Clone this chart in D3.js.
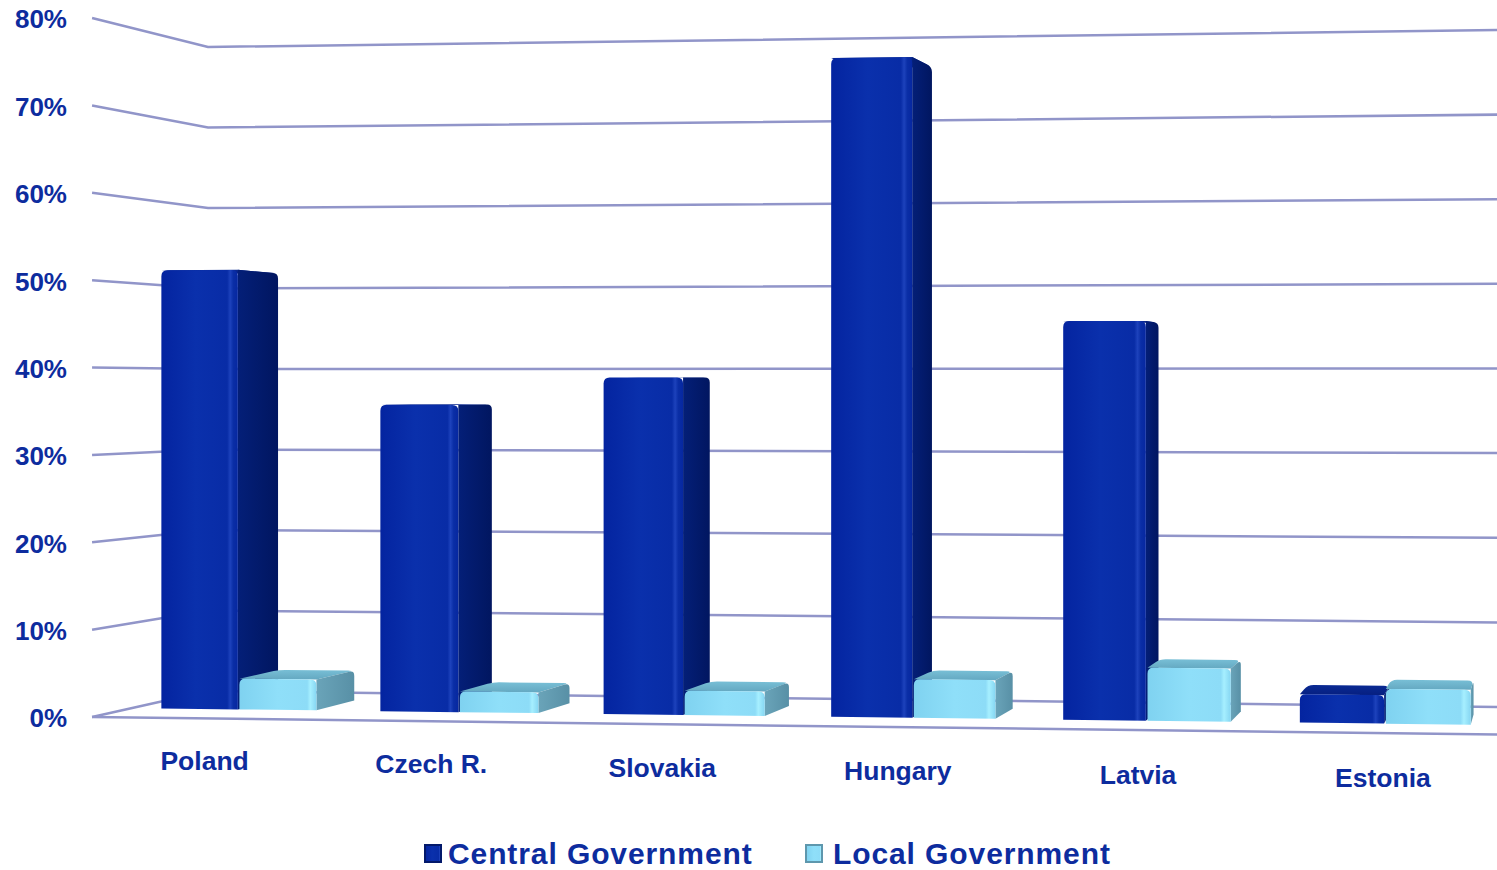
<!DOCTYPE html>
<html>
<head>
<meta charset="utf-8">
<script src="https://cdn.jsdelivr.net/npm/d3@7"></script>
<style>
body { margin: 0; background: #fff; }
svg { display: block; }
</style>
</head>
<body>
<div id="chart"></div>
<script>
var categories = ["Poland", "Czech R.", "Slovakia", "Hungary", "Latvia", "Estonia"];
var seriesNames = ["Central Government", "Local Government"];
var centralGov = [51.5, 35.7, 38.9, 75.5, 45.3, 3.2];
var localGov = [3.6, 2.4, 2.8, 4.4, 6.0, 3.9];
var yTicks = [0, 10, 20, 30, 40, 50, 60, 70, 80];

var width = 1497, height = 870;
var wallL = 208, wallR = 1500;
// vanishing point of the depth axis and depth scale factors
var vp = [1564, 386];
var mBack = 1.024, mFront = 1.056, mFloor = 1.0855;
var warp = 1.06, barX0 = 206, barW = 1303;
var textColor = "#0d2c9e", gridColor = "#9195c9";

var band = d3.scaleBand().domain(categories).range([0, 1])
    .paddingInner(0.29).paddingOuter(0.145);
var sub = d3.scaleBand().domain(seriesNames).range([0, band.bandwidth()])
    .paddingInner(0.02);
var yL = d3.scaleLinear().domain([0, 80]).range([691, 47]);
var yR = d3.scaleLinear().domain([0, 80]).range([707, 30]);

// slight perspective along the category axis
function bx(t) { var f = t / (warp - (warp - 1) * t); return barX0 + barW * f; }
function by(x, v) { var k = (x - wallL) / (1497 - wallL); return yL(v) + (yR(v) - yL(v)) * k; }
function proj(x, y, m) { return [vp[0] + (x - vp[0]) * m, vp[1] + (y - vp[1]) * m]; }
function towards(p, q, r) {
  var dx = q[0] - p[0], dy = q[1] - p[1], d = Math.sqrt(dx * dx + dy * dy);
  var k = Math.min(r, d / 2) / (d || 1);
  return [p[0] + dx * k, p[1] + dy * k];
}
function fmt(p) { return p[0].toFixed(2) + "," + p[1].toFixed(2); }
function roundPoly(pts, r, idx) {
  var n = pts.length, s = "";
  for (var i = 0; i < n; i++) {
    var p = pts[i], cmd = i ? "L" : "M";
    if (idx.indexOf(i) < 0) { s += cmd + fmt(p); continue; }
    var a = towards(p, pts[(i - 1 + n) % n], r), b = towards(p, pts[(i + 1) % n], r);
    s += cmd + fmt(a) + "Q" + fmt(p) + " " + fmt(b);
  }
  return s + "Z";
}

var svg = d3.select("#chart").append("svg")
    .attr("width", width)
    .attr("height", height)
    .style("font-family", "'Liberation Sans', Arial, sans-serif");

var defs = svg.append("defs");
function grad(id, stops, vertical) {
  var g = defs.append("linearGradient").attr("id", id)
    .attr("x1", 0).attr("y1", 0).attr("x2", vertical ? 0 : 1).attr("y2", vertical ? 1 : 0);
  stops.forEach(function(s) { g.append("stop").attr("offset", s[0]).attr("stop-color", s[1]); });
}
grad("darkFront", [[0, "#0424a0"], [0.45, "#0a30ac"], [0.86, "#082ca6"], [0.9, "#1d42bc"], [0.94, "#0a2ea6"], [1, "#0627a0"]]);
grad("darkSide", [[0, "#041f78"], [1, "#011660"]]);
grad("darkTop", [[0, "#0a2a94"], [1, "#061f80"]], true);
grad("lightFront", [[0, "#7fd2f0"], [0.5, "#8fdff9"], [0.88, "#8ddcf7"], [0.92, "#a6efff"], [1, "#86d6f2"]]);
grad("lightSide", [[0, "#6aa4b9"], [1, "#5890a6"]]);
grad("lightTop", [[0, "#78bfd6"], [1, "#64a8c1"]], true);

// walls
var line = d3.line();
var grid = svg.append("g").attr("class", "grid");
grid.selectAll("path.wall").data(yTicks).enter().append("path")
    .attr("class", "wall")
    .attr("fill", "none")
    .attr("stroke", gridColor)
    .attr("stroke-width", 2.5)
    .attr("d", function(v) {
      return line([proj(wallL, by(wallL, v), mFloor), [wallL, by(wallL, v)], [wallR, by(wallR, v)]]);
    });
grid.append("path")
    .attr("fill", "none")
    .attr("stroke", gridColor)
    .attr("stroke-width", 2.5)
    .attr("d", line([proj(wallL, by(wallL, 0), mFloor), proj(wallR + 6, by(wallR + 6, 0), mFloor)]));

// y labels
svg.append("g").selectAll("text").data(yTicks).enter().append("text")
    .attr("x", 67)
    .attr("y", function(v) { return proj(wallL, by(wallL, v), mFloor)[1] + 1; })
    .attr("dy", "0.36em")
    .attr("text-anchor", "end")
    .attr("font-size", 26)
    .attr("font-weight", "bold")
    .attr("fill", textColor)
    .text(function(v) { return v + "%"; });

// bars
var bars = [];
categories.forEach(function(c, i) {
  bars.push({ cat: c, s: seriesNames[0], v: centralGov[i], kind: "dark" });
  bars.push({ cat: c, s: seriesNames[1], v: localGov[i], kind: "light" });
});

var gBars = svg.append("g").selectAll("g.bar").data(bars).enter().append("g").attr("class", "bar");
function corners(d) {
  var t0 = band(d.cat) + sub(d.s), t1 = t0 + sub.bandwidth();
  var x0 = bx(t0), x1 = bx(t1);
  return { x0: x0, x1: x1, b0: by(x0, 0), b1: by(x1, 0), h0: by(x0, d.v), h1: by(x1, d.v) };
}
gBars.append("path")
    .attr("fill", function(d) { return "url(#" + d.kind + "Top)"; })
    .attr("d", function(d) {
      var c = corners(d);
      return roundPoly([proj(c.x0, c.h0, mFront), proj(c.x1, c.h1, mFront), proj(c.x1, c.h1, mBack), proj(c.x0, c.h0, mBack)], 6, [2, 3]);
    });
gBars.append("path")
    .attr("fill", function(d) { return "url(#" + d.kind + "Side)"; })
    .attr("d", function(d) {
      var c = corners(d);
      return roundPoly([proj(c.x1, c.b1, mFront), proj(c.x1, c.b1, mBack), proj(c.x1, c.h1, mBack), proj(c.x1, c.h1, mFront)], 5, [2]);
    });
gBars.append("path")
    .attr("fill", function(d) { return "url(#" + d.kind + "Front)"; })
    .attr("d", function(d) {
      var c = corners(d);
      return roundPoly([proj(c.x0, c.b0, mFront), proj(c.x1, c.b1, mFront), proj(c.x1, c.h1, mFront), proj(c.x0, c.h0, mFront)], 6, [2, 3]);
    });

// category labels
function labelPos(c) {
  var x = bx(band(c) + band.bandwidth() / 2), p = proj(x, by(x, 0), mFloor);
  var u = (x - wallL) / (1497 - wallL);
  return [p[0] + 3, p[1] + 41.5 + 3.5 * u];
}
svg.append("g").selectAll("text").data(categories).enter().append("text")
    .attr("x", function(c) { return labelPos(c)[0]; })
    .attr("y", function(c) { return labelPos(c)[1]; })
    .attr("dy", "0.36em")
    .attr("text-anchor", "middle")
    .attr("font-size", 26.5)
    .attr("font-weight", "bold")
    .attr("fill", textColor)
    .text(function(c) { return c; });

// legend
var legendX = [425, 806], legendTextX = [448, 833];
var legend = svg.append("g").selectAll("g").data(seriesNames).enter().append("g");
legend.append("rect")
    .attr("x", function(d, i) { return legendX[i]; })
    .attr("y", 845)
    .attr("width", 16).attr("height", 17)
    .attr("fill", function(d, i) { return i == 0 ? "url(#darkFront)" : "url(#lightFront)"; })
    .attr("stroke", function(d, i) { return i == 0 ? "#03196a" : "#5e97ad"; })
    .attr("stroke-width", 2);
legend.append("text")
    .attr("x", function(d, i) { return legendTextX[i]; })
    .attr("y", 864)
    .attr("font-size", 30)
    .attr("letter-spacing", 0.9)
    .attr("font-weight", "bold")
    .attr("fill", textColor)
    .text(function(d) { return d; });
</script>
</body>
</html>
